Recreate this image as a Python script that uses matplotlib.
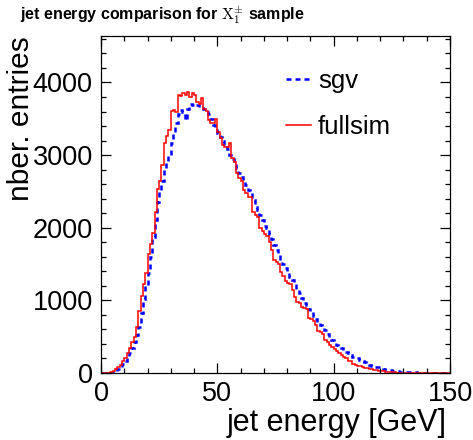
import numpy as np
import matplotlib
matplotlib.use("Agg")
import matplotlib.pyplot as plt
from matplotlib.ticker import MultipleLocator

plt.rcParams['font.family'] = ['Liberation Sans', 'DejaVu Sans']
plt.rcParams['mathtext.fontset'] = 'cm'

# ---- data (1 GeV bins from 0 to 150) ----
bin_edges = np.arange(0, 151, 1)

fullsim = [
    0, 0, 2, 5, 10, 25, 50, 80, 115, 160,
    200, 270, 350, 430, 500, 640, 860, 1060, 1230, 1370,
    1640, 1780, 1930, 2220, 2540, 2650, 2860, 3160, 3270, 3340,
    3610, 3620, 3600, 3830, 3820, 3860, 3830, 3870, 3800, 3850,
    3830, 3730, 3700, 3780, 3640, 3610, 3480, 3440, 3440, 3500,
    3320, 3230, 3140, 3110, 3110, 3160, 2960, 2900, 2750, 2690,
    2640, 2520, 2480, 2430, 2420, 2220, 2180, 2150, 1990, 1950,
    1920, 1880, 1800, 1690, 1560, 1530, 1500, 1390, 1330, 1260,
    1240, 1220, 1140, 1050, 980, 960, 910, 890, 880, 760,
    740, 720, 660, 580, 560, 540, 460, 420, 390, 360,
    330, 300, 270, 250, 220, 200, 170, 160, 130, 110,
    100, 90, 85, 75, 70, 60, 55, 45, 40, 30,
    25, 22, 18, 15, 12, 10, 8, 6, 5, 4,
    3, 3, 2, 2, 2, 1, 1, 1, 1, 1,
    0, 1, 0, 0, 1, 0, 0, 0, 0, 0,
]

sgv = [
    0, 0, 0, 2, 5, 12, 30, 55, 85, 120,
    165, 210, 280, 350, 420, 520, 640, 830, 1020, 1200,
    1380, 1600, 1870, 2100, 2350, 2510, 2650, 2790, 2900, 3000,
    3160, 3300, 3440, 3570, 3620, 3600, 3480, 3640, 3700, 3690,
    3680, 3690, 3660, 3650, 3630, 3590, 3560, 3500, 3420, 3360,
    3300, 3250, 3200, 3120, 3080, 3000, 2950, 2880, 2820, 2750,
    2700, 2640, 2590, 2520, 2480, 2380, 2280, 2240, 2170, 2100,
    2030, 1990, 1910, 1850, 1760, 1690, 1620, 1550, 1500, 1450,
    1380, 1320, 1280, 1230, 1160, 1100, 1030, 970, 930, 880,
    840, 790, 750, 700, 660, 620, 590, 540, 500, 460,
    420, 390, 360, 340, 310, 290, 270, 245, 225, 215,
    205, 185, 165, 150, 125, 110, 95, 88, 82, 78,
    65, 55, 45, 40, 35, 30, 27, 24, 20, 18,
    16, 15, 14, 12, 10, 8, 6, 5, 4, 3,
    2, 2, 1, 1, 1, 1, 0, 1, 0, 0,
]

series_labels = ["sgv", "fullsim"]
x_ticks = [0, 50, 100, 150]
y_ticks = [0, 1000, 2000, 3000, 4000]

W, H = 473, 440
fig = plt.figure(figsize=(W / 100, H / 100), dpi=100)
ax = fig.add_axes([101 / W, 1 - 373 / H, (450 - 101) / W, (373 - 36) / H])

ax.stairs(sgv, bin_edges, color='#0000ff', linewidth=1.8,
          linestyle=(0, (2.0, 1.6)), label=series_labels[0])
ax.stairs(fullsim, bin_edges, color='#ff0000', linewidth=1.1,
          label=series_labels[1])

ax.set_xlim(0, 150)
ax.set_ylim(0, 4640)
ax.set_xticks(x_ticks)
ax.set_yticks(y_ticks)
ax.xaxis.set_minor_locator(MultipleLocator(10))
ax.yaxis.set_minor_locator(MultipleLocator(200))
ax.tick_params(which='both', direction='in', top=True, right=True,
               labelsize=19.5, width=0.9)
ax.tick_params(which='major', length=7.2, pad=6)
ax.tick_params(which='minor', length=3.8)
for s in ax.spines.values():
    s.set_linewidth(0.9)

leg = ax.legend(loc='upper left', bbox_to_anchor=(0.50, 0.933), frameon=False,
                fontsize=18.5, handlelength=1.0, handletextpad=0.25,
                labelspacing=0.86, borderaxespad=0)

fig.text(447 / W, 1 - 431 / H, "jet energy [GeV]", ha='right', va='baseline',
         fontsize=22)
fig.text(21 / W, 1 - 36 / H, "nber. entries", rotation=90, ha='center',
         va='top', fontsize=21.5)
fig.text(20 / W, 1 - 20 / H,
         r"jet energy comparison for $\mathrm{X}_{1}^{\pm}$ sample",
         ha='left', va='baseline', fontsize=11.5, fontweight='bold')

fig.savefig("out.png", dpi=100)
